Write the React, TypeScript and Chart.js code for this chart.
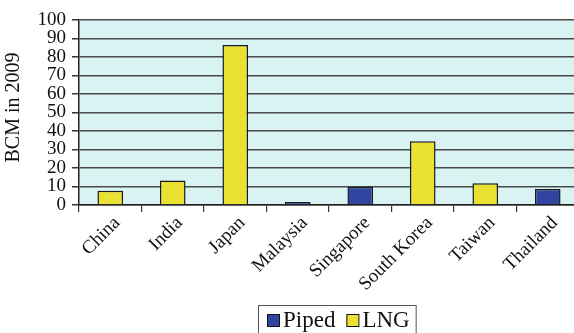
import React, { useEffect, useRef } from 'react';
import { Chart, registerables } from 'chart.js';

Chart.register(...registerables);

const categories = ['China', 'India', 'Japan', 'Malaysia', 'Singapore', 'South Korea', 'Taiwan', 'Thailand'];
const pipedValues = [null, null, null, 1.6, 9.9, null, null, 8.6];
const lngValues = [7.7, 13.3, 86.5, null, null, 34.4, 11.7, null];
const seriesNames = ['Piped', 'LNG'];
const seriesColors = ['#2F45A0', '#EAE132'];
const yMin = 0;
const yMax = 100;
const yStep = 10;
const yTitle = 'BCM in 2009';

const FONT = "'Liberation Serif', 'Times New Roman', serif";

const bgPlugin = {
  id: 'plotBg',
  beforeDraw(chart: any) {
    const { ctx, chartArea } = chart;
    ctx.save();
    ctx.fillStyle = '#D9F3F2';
    ctx.fillRect(chartArea.left, chartArea.top, chartArea.right - chartArea.left, chartArea.bottom - chartArea.top);
    ctx.restore();
  },
};

const yTitlePlugin = {
  id: 'yTitle',
  afterDraw(chart: any) {
    const { ctx, chartArea } = chart;
    ctx.save();
    ctx.font = `20px ${FONT}`;
    ctx.fillStyle = '#111';
    ctx.textAlign = 'center';
    ctx.textBaseline = 'middle';
    ctx.translate(14, (chartArea.top + chartArea.bottom) / 2 - 5);
    ctx.rotate(-Math.PI / 2);
    ctx.fillText(yTitle, 0, 0);
    ctx.restore();
  },
};

const legendPlugin = {
  id: 'customLegend',
  afterDraw(chart: any) {
    const { ctx } = chart;
    ctx.save();
    ctx.font = `23px ${FONT}`;
    const boxLeft = 258;
    const boxTop = 305;
    const sq = 12;
    let x = boxLeft + 9;
    const items = seriesNames.map((n, i) => ({ n, c: seriesColors[i] }));
    items.forEach((it, i) => {
      ctx.fillStyle = it.c;
      ctx.fillRect(x, boxTop + 9, sq, sq);
      ctx.strokeStyle = '#111';
      ctx.lineWidth = 1;
      ctx.strokeRect(x + 0.5, boxTop + 9.5, sq, sq);
      x += sq + 4;
      ctx.fillStyle = '#111';
      ctx.textBaseline = 'alphabetic';
      ctx.fillText(it.n, x, boxTop + 22);
      x += ctx.measureText(it.n).width + (i < items.length - 1 ? 11 : 6);
    });
    ctx.strokeStyle = '#555';
    ctx.lineWidth = 1;
    ctx.strokeRect(boxLeft + 0.5, boxTop + 0.5, x - boxLeft, 40);
    ctx.restore();
  },
};

export default function App() {
  const ref = useRef<HTMLCanvasElement>(null);
  useEffect(() => {
    if (!ref.current) return;
    const chart = new Chart(ref.current, {
      type: 'bar',
      data: {
        labels: categories,
        datasets: [
          {
            label: seriesNames[0],
            data: pipedValues as any,
            backgroundColor: seriesColors[0],
            borderColor: '#1a1a1a',
            borderWidth: 1.5,
          },
          {
            label: seriesNames[1],
            data: lngValues as any,
            backgroundColor: seriesColors[1],
            borderColor: '#1a1a1a',
            borderWidth: 1.5,
          },
        ],
      },
      options: {
        responsive: false,
        maintainAspectRatio: false,
        animation: false,
        datasets: { bar: { categoryPercentage: 1, barPercentage: 0.41 } },
        layout: { padding: { left: 0, top: 20, right: 11, bottom: 0 } },
        plugins: { legend: { display: false }, tooltip: { enabled: false } },
        scales: {
          x: {
            stacked: true,
            grid: { offset: true, drawOnChartArea: false, drawTicks: true, tickLength: 7, tickColor: '#333', lineWidth: 1.2 },
            border: { color: '#222', width: 1.5 },
            ticks: { color: '#111', font: { family: FONT, size: 19 }, minRotation: 45, maxRotation: 45, padding: 0, labelOffset: 7, autoSkip: false },
            afterFit(scale: any) { scale.height = 128; },
          },
          y: {
            stacked: true,
            min: yMin,
            max: yMax,
            grid: { color: '#4a4a4a', lineWidth: 1.5, tickLength: 7, tickColor: '#333' },
            border: { color: '#222', width: 1.5 },
            ticks: { stepSize: yStep, color: '#111', font: { family: FONT, size: 19 }, padding: 6, autoSkip: false },
            title: { display: false },
            afterFit(scale: any) { scale.width = 79; },
          },
        },
      },
      plugins: [bgPlugin, yTitlePlugin, legendPlugin],
    });
    return () => chart.destroy();
  }, []);
  return (
    <div style={{ position: 'fixed', left: 0, top: 0, width: 574, height: 333, overflow: 'hidden', background: '#fff' }}>
      <canvas ref={ref} width={590} height={333} style={{ display: 'block' }} />
    </div>
  );
}
